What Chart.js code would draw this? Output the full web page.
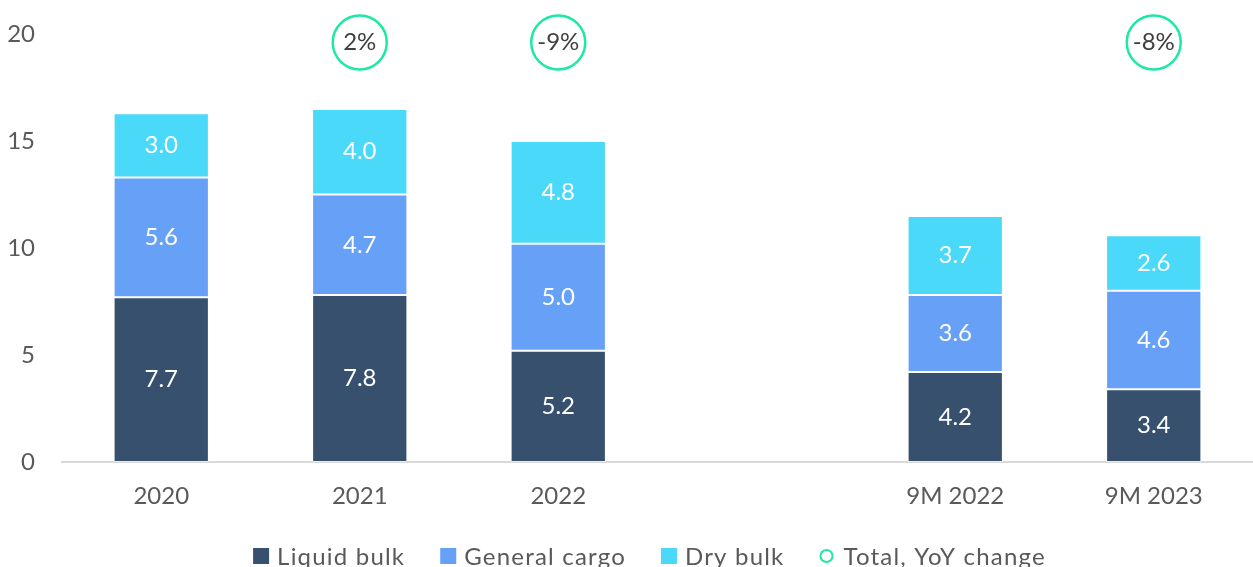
<!DOCTYPE html>
<html>
<head>
<meta charset="utf-8">
<script src="https://cdn.jsdelivr.net/npm/chart.js@4.4.1/dist/chart.umd.min.js"></script>
<style>
  html, body { margin: 0; padding: 0; background: #fff; overflow: hidden; }
  #wrap { width: 1253px; height: 567px; position: relative; }
</style>
</head>
<body>
<div id="wrap"><canvas id="chart"></canvas></div>
<script>
// ── Data ──────────────────────────────────────────────
const categories = ['2020', '2021', '2022', '', '9M 2022', '9M 2023'];
const liquidBulk = [7.7, 7.8, 5.2, null, 4.2, 3.4];
const generalCargo = [5.6, 4.7, 5.0, null, 3.6, 4.6];
const dryBulk = [3.0, 4.0, 4.8, null, 3.7, 2.6];
const yoyChange = [null, '2%', '-9%', null, null, '-8%'];
const yTicks = [0, 5, 10, 15, 20];

const FONT = 'Lato, "DejaVu Sans", sans-serif';
const TEXT = '#595959';
const TEAL = '#1de9a0';
const YOY_LEVEL = 19.6;

const bar = (label, data, color) => ({
    type: 'bar', label, data, backgroundColor: color,
    borderColor: 'rgba(255,255,255,0.45)', borderWidth: 1, borderSkipped: false,
    stack: 's', categoryPercentage: 1, barPercentage: 0.48, order: 2
});

// white numbers inside bars + percent text in circles
const labelPlugin = {
    id: 'labels',
    afterDatasetsDraw(chart) {
        const ctx = chart.ctx;
        ctx.save();
        ctx.textAlign = 'center';
        ctx.textBaseline = 'middle';
        ctx.font = '24px ' + FONT;
        chart.data.datasets.forEach((ds, i) => {
            chart.getDatasetMeta(i).data.forEach((el, j) => {
                if (ds.type === 'bar') {
                    const v = ds.data[j];
                    if (v == null) return;
                    ctx.fillStyle = '#ffffff';
                    ctx.fillText(v.toFixed(1), el.x, (el.y + el.base) / 2);
                } else if (yoyChange[j]) {
                    ctx.fillStyle = '#404040';
                    ctx.fillText(yoyChange[j], el.x, el.y);
                }
            });
        });
        ctx.restore();
    }
};

// legend along the bottom edge
const legendPlugin = {
    id: 'bottomLegend',
    afterDraw(chart) {
        const ctx = chart.ctx;
        const items = chart.data.datasets.map(ds => ({ text: ds.label, bar: ds.type === 'bar', color: ds.backgroundColor }));
        ctx.save();
        ctx.font = '24px ' + FONT;
        ctx.letterSpacing = '1.2px';
        const box = 16, gap = 8, spacing = 35;
        const widths = items.map(it => box + gap + ctx.measureText(it.text).width);
        const total = widths.reduce((a, b) => a + b, 0) + spacing * (items.length - 1);
        let x = chart.width / 2 + 23 - total / 2;
        const base = 565;
        ctx.textBaseline = 'alphabetic';
        items.forEach((it, i) => {
            if (it.bar) {
                ctx.fillStyle = it.color;
                ctx.fillRect(x, base - 17, box, box);
            } else {
                ctx.beginPath();
                ctx.arc(x + 7, base - 9, 6, 0, Math.PI * 2);
                ctx.strokeStyle = TEAL;
                ctx.lineWidth = 2;
                ctx.stroke();
            }
            ctx.fillStyle = TEXT;
            ctx.fillText(it.text, x + box + gap, base);
            x += widths[i] + spacing;
        });
        ctx.restore();
    }
};

new Chart(document.getElementById('chart'), {
    data: {
        labels: categories,
        datasets: [
            bar('Liquid bulk', liquidBulk, '#36506e'),
            bar('General cargo', generalCargo, '#66a0f7'),
            bar('Dry bulk', dryBulk, '#4ad9f8'),
            {
                type: 'line', label: 'Total, YoY change',
                data: yoyChange.map(v => v ? YOY_LEVEL : null),
                showLine: false, pointRadius: 27, pointHoverRadius: 27,
                pointBackgroundColor: '#ffffff', pointBorderColor: TEAL,
                pointBorderWidth: 2.5, clip: false, order: 1
            }
        ]
    },
    options: {
        responsive: true,
        maintainAspectRatio: false,
        animation: false,
        events: [],
        layout: { autoPadding: false, padding: 0 },
        plugins: {
            tooltip: { enabled: false },
            legend: { display: false }
        },
        scales: {
            x: {
                stacked: true,
                afterFit(scale) {
                    scale.height = 105;
                    scale.paddingLeft = 0;
                    scale.paddingRight = 0;
                },
                grid: { display: false, drawTicks: false },
                border: { display: true, color: '#d9d9d9', width: 2 },
                ticks: { font: { family: FONT, size: 24 }, color: TEXT, padding: 20 }
            },
            y: {
                stacked: true,
                min: 0, max: 20,
                afterFit(scale) {
                    scale.width = 62;
                    scale.paddingTop = 34;
                    scale.paddingBottom = 0;
                },
                afterBuildTicks(scale) { scale.ticks = yTicks.map(v => ({ value: v })); },
                grid: { display: false, drawTicks: false },
                border: { display: false },
                ticks: { font: { family: FONT, size: 24 }, color: TEXT, padding: 27 }
            }
        }
    },
    plugins: [labelPlugin, legendPlugin]
});
</script>
</body>
</html>
